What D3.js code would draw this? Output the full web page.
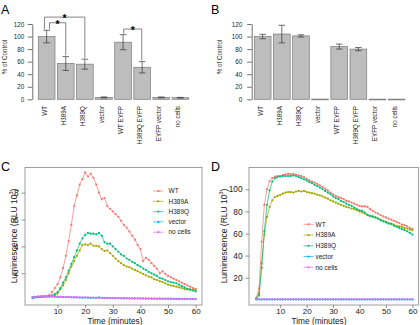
<!DOCTYPE html>
<html>
<head>
<meta charset="utf-8">
<script src="https://cdn.jsdelivr.net/npm/d3@7"></script>
<style>
body { margin: 0; background: #fff; }
text { font-family: "Liberation Sans", Arial, sans-serif; }
</style>
</head>
<body>
<svg width="420" height="325"></svg>
<script>
// bar panels (A, B)
const groups = ["WT", "H389A", "H389Q", "vector", "WT EYFP", "H389Q EYFP", "EYFP vector", "no cells"];
const pctA = [100, 57, 56, 3, 91, 51, 3, 2.5];
const errA = [10, 11, 8, 0.8, 12, 9, 0.7, 0.5];
const pctB = [100, 104, 101, 0.4, 84, 80, 0.3, 0.3];
const errB = [3.5, 14, 1.8, 0, 4, 2.5, 0, 0];
const barTicks = [0, 20, 40, 60, 80, 100, 120];
// significance brackets in panel A: [from, to, level]
const brackets = [[0, 2, 131], [0, 1, 122], [4, 5, 112]];

// time courses (C, D)
const minutes = d3.range(1, 61);
const seriesNames = ["WT", "H389A", "H389Q", "vector", "no cells"];
const seriesColors = ["#F8766D", "#A3A500", "#00BF7D", "#00B0F6", "#E76BF3"];

const cWT = [0.22, 0.24, 0.26, 0.27, 0.28, 0.3, 0.38, 0.6, 0.9, 1.2,
  1.7, 2.4, 3.3, 4.4, 5.6, 7.0, 7.8, 8.6, 9.0, 9.5,
  9.2, 9.4, 9.1, 8.6, 8.0, 7.5, 7.6, 7.0, 6.8, 6.6,
  6.4, 6.2, 5.9, 5.6, 5.4, 5.1, 4.8, 4.5, 4.1, 3.8,
  2.9, 3.15, 3.0, 2.75, 2.55, 2.35, 2.0, 2.15, 1.95, 1.8,
  1.7, 1.6, 1.5, 1.4, 1.3, 1.2, 1.1, 1.0, 0.9, 0.85];
const cH389A = [0.2, 0.22, 0.24, 0.25, 0.26, 0.27, 0.28, 0.3, 0.35, 0.5,
  0.8, 1.1, 1.5, 2.0, 2.5, 2.9, 3.3, 3.7, 4.1, 4.15,
  4.1, 4.2, 4.05, 4.05, 4.0, 3.8, 3.65, 3.7, 3.5, 3.3,
  3.1, 2.9, 2.75, 2.6, 2.5, 2.45, 2.35, 2.25, 2.15, 2.05,
  1.95, 1.85, 1.75, 1.7, 1.55, 1.5, 1.4, 1.35, 1.25, 1.15,
  1.1, 1.05, 1.0, 0.95, 0.9, 0.82, 0.8, 0.78, 0.75, 0.75];
const cH389Q = [0.2, 0.22, 0.24, 0.25, 0.26, 0.27, 0.29, 0.35, 0.45, 0.6,
  0.9, 1.3, 1.7, 2.2, 2.7, 3.2, 3.7, 4.2, 4.6, 4.85,
  5.0, 4.95, 4.95, 4.9, 5.0, 4.8, 4.3, 4.2, 4.2, 4.0,
  3.8, 3.6, 3.4, 3.3, 3.1, 3.0, 2.85, 2.75, 2.6, 2.5,
  2.35, 2.25, 2.1, 2.0, 1.9, 1.8, 1.65, 1.6, 1.5, 1.4,
  1.35, 1.3, 1.25, 1.15, 1.05, 0.95, 0.85, 0.8, 0.72, 0.65];
const cVector = [0.15, 0.2, 0.22, 0.25, 0.28, 0.27, 0.26, 0.27, 0.25, 0.24,
  0.24, 0.23, 0.22, 0.23, 0.21, 0.2, 0.2, 0.19, 0.18, 0.19,
  0.18, 0.17, 0.18, 0.17, 0.2, 0.16, 0.15, 0.16, 0.15, 0.15,
  0.14, 0.15, 0.14, 0.13, 0.14, 0.13, 0.13, 0.12, 0.13, 0.12,
  0.12, 0.11, 0.12, 0.11, 0.11, 0.1, 0.11, 0.1, 0.1, 0.1,
  0.09, 0.1, 0.09, 0.09, 0.08, 0.09, 0.08, 0.08, 0.08, 0.08];
const cNoCells = [0.2, 0.25, 0.28, 0.3, 0.3, 0.3, 0.29, 0.28, 0.27, 0.26,
  0.25, 0.25, 0.24, 0.23, 0.23, 0.22, 0.22, 0.21, 0.21, 0.2,
  0.2, 0.19, 0.19, 0.18, 0.18, 0.18, 0.17, 0.17, 0.16, 0.16,
  0.16, 0.15, 0.15, 0.15, 0.14, 0.14, 0.14, 0.14, 0.13, 0.13,
  0.13, 0.13, 0.12, 0.12, 0.12, 0.12, 0.11, 0.11, 0.11, 0.11,
  0.11, 0.1, 0.1, 0.1, 0.1, 0.1, 0.1, 0.09, 0.09, 0.09];

const dWT = [2, 10.4, 52.6, 85.8, 100, 107.5, 110, 111.4, 112, 112,
  113, 113.5, 114, 113.5, 114, 113, 112.5, 112, 111, 109.5,
  108, 107, 106, 105, 103.5, 102, 100.5, 99, 97, 95.5,
  94, 93, 92, 91, 89.5, 89, 88, 87, 86, 85,
  84.5, 84.5, 84, 82, 80.5, 79, 78, 76.5, 75.5, 74.5,
  73.5, 72.5, 71.5, 70.5, 69.5, 68, 67.5, 66.5, 65, 64];
const dH389A = [1, 6, 33, 59, 75, 84, 90, 93, 94, 95,
  96, 97, 97.5, 97.5, 97, 98, 98.5, 98, 98.5, 97.5,
  97, 96.5, 96, 95, 94.5, 93.5, 92.5, 91.5, 90, 89,
  88, 87, 86, 85, 84, 83.5, 82.5, 82, 81, 80,
  79, 78, 76.5, 75.5, 75, 74.5, 73.5, 72.5, 71.5, 70.5,
  69.5, 69, 68, 67, 66.5, 66, 65, 64.5, 63.5, 63];
const dH389Q = [1, 4, 29, 62, 86, 99, 107, 110, 111, 111.5,
  112, 112, 112, 112, 112.5, 112, 111, 110, 109, 108,
  106.5, 105.5, 104, 103, 101.5, 100, 98.5, 97, 95.5, 93.5,
  92, 91, 89.5, 88.5, 87, 86, 85, 83.5, 82, 81,
  80.5, 79, 77, 76, 75.5, 74.5, 73.5, 72, 71, 70,
  69, 68.5, 67, 66, 65, 64, 63, 62, 60.5, 59];
const dVector = [0.3, 0.3, 0.3, 0.3, 0.3, 0.3, 0.3, 0.3, 0.3, 0.3,
  0.3, 0.3, 0.3, 0.3, 0.3, 0.3, 0.3, 0.3, 0.3, 0.3,
  0.3, 0.3, 0.3, 0.3, 0.3, 0.3, 0.3, 0.3, 0.3, 0.3,
  0.3, 0.3, 0.3, 0.3, 0.3, 0.3, 0.3, 0.3, 0.3, 0.3,
  0.3, 0.3, 0.3, 0.3, 0.3, 0.3, 0.3, 0.3, 0.3, 0.3,
  0.3, 0.3, 0.3, 0.3, 0.3, 0.3, 0.3, 0.3, 0.3, 0.3];
const dNoCells = [0.4, 0.4, 0.4, 0.4, 0.4, 0.4, 0.4, 0.4, 0.4, 0.4,
  0.4, 0.4, 0.4, 0.4, 0.4, 0.4, 0.4, 0.4, 0.4, 0.4,
  0.4, 0.4, 0.4, 0.4, 0.4, 0.4, 0.4, 0.4, 0.4, 0.4,
  0.4, 0.4, 0.4, 0.4, 0.4, 0.4, 0.4, 0.4, 0.4, 0.4,
  0.4, 0.4, 0.4, 0.4, 0.4, 0.4, 0.4, 0.4, 0.4, 0.4,
  0.4, 0.4, 0.4, 0.4, 0.4, 0.4, 0.4, 0.4, 0.4, 0.4];

const svg = d3.select("svg");

// panel letters
svg.selectAll("text.panel")
  .data([["A", 1, 14], ["B", 211, 14], ["C", 1, 171], ["D", 211, 171]])
  .enter().append("text")
  .attr("x", d => d[1])
  .attr("y", d => d[2])
  .attr("font-size", 12.5)
  .text(d => d[0]);

function barPanel(vals, errs, opt) {
  const x = d3.scaleBand().domain(groups).range(opt.xr).paddingInner(0.126).paddingOuter(0.063);
  const y = d3.scaleLinear().domain([0, 120]).range([99.3, 24]);
  const g = svg.append("g");
  const rows = vals.map((v, i) => ({ k: groups[i], v: v, e: errs[i] }));
  const mid = d => x(d.k) + x.bandwidth() / 2;

  const ax = g.append("g")
    .attr("transform", `translate(${opt.axisX},0)`)
    .call(d3.axisLeft(y).tickValues(barTicks).tickSize(4.5).tickSizeOuter(0).tickPadding(opt.pad));
  ax.select(".domain").attr("stroke", "#333").attr("stroke-width", 0.7);
  ax.selectAll(".tick line").attr("stroke", "#333").attr("stroke-width", 0.7);
  ax.selectAll(".tick text").attr("font-size", 6.3).attr("fill", "#222")
    .attr("font-family", "'Liberation Sans', Arial, sans-serif");

  g.append("text")
    .attr("transform", `translate(${opt.labelX},57) rotate(-90)`)
    .attr("text-anchor", "middle")
    .attr("font-size", 6.3)
    .attr("fill", "#222")
    .text("% of Control");

  g.selectAll("rect.bar").data(rows).enter().append("rect")
    .attr("x", d => x(d.k))
    .attr("width", x.bandwidth())
    .attr("y", d => y(d.v))
    .attr("height", d => Math.max(0.8, y(0) - y(d.v)))
    .attr("fill", "#bdbdbd")
    .attr("stroke", "#7a7a7a")
    .attr("stroke-width", 0.7);

  // error bars
  const eb = g.selectAll("g.err").data(rows.filter(d => d.e > 0.2)).enter().append("g");
  eb.append("line")
    .attr("x1", mid).attr("x2", mid)
    .attr("y1", d => y(d.v - d.e))
    .attr("y2", d => y(d.v + d.e));
  [1, -1].forEach(s => {
    eb.append("line")
      .attr("x1", d => mid(d) - 3.3)
      .attr("x2", d => mid(d) + 3.3)
      .attr("y1", d => y(d.v + s * d.e))
      .attr("y2", d => y(d.v + s * d.e));
  });
  eb.selectAll("line").attr("stroke", "#333").attr("stroke-width", 0.7);

  g.selectAll("text.xl").data(groups).enter().append("text")
    .attr("transform", d => `translate(${x(d) + x.bandwidth() / 2},106) rotate(-90)`)
    .attr("text-anchor", "end")
    .attr("font-size", 6.3)
    .attr("fill", "#222")
    .text(d => d);

  return { x, y, g };
}

const A = barPanel(pctA, errA, { xr: [37.1, 189.9], axisX: 32.3, pad: 3.5, labelX: 6.5 });
barPanel(pctB, errB, { xr: [253.1, 406.2], axisX: 251.7, pad: 5, labelX: 221.5 });

// significance brackets for A
const cx = i => A.x(groups[i]) + A.x.bandwidth() / 2;
brackets.forEach(([a, b, lvl], k) => {
  const xa = cx(a) + (k === 0 ? -2.2 : k === 1 ? 2.8 : 0.7);
  const xb = cx(b) + (k === 2 ? -0.4 : 0);
  const ya = A.y(lvl);
  const endA = A.y(pctA[a] + errA[a] + 1.5);
  const endB = A.y(pctA[b] + errA[b] + 2);
  A.g.append("path")
    .attr("d", `M${xa},${endA}V${ya}H${xb}V${endB}`)
    .attr("fill", "none")
    .attr("stroke", "#666")
    .attr("stroke-width", 0.8);
  A.g.append("text")
    .attr("x", (xa + xb) / 2)
    .attr("y", ya + 5.3)
    .attr("text-anchor", "middle")
    .attr("font-size", 10.5)
    .attr("font-weight", "bold")
    .attr("fill", "#000")
    .text("*");
});

function linePanel(series, opt) {
  const x = d3.scaleLinear().domain([-1.8, 62.3]).range(opt.xr);
  const y = d3.scaleLinear().domain(opt.yd).range([305, 167.5]);
  const g = svg.append("g");

  g.append("rect")
    .attr("x", opt.xr[0]).attr("y", 167.5)
    .attr("width", opt.xr[1] - opt.xr[0]).attr("height", 305 - 167.5)
    .attr("fill", "none").attr("stroke", "#888").attr("stroke-width", 0.8);

  const ay = g.append("g").attr("transform", `translate(${opt.xr[0]},0)`)
    .call(d3.axisLeft(y).tickValues(opt.yt).tickSize(3.5).tickPadding(3));
  const ax = g.append("g").attr("transform", "translate(0,305)")
    .call(d3.axisBottom(x).tickValues([10, 20, 30, 40, 50, 60]).tickSize(3).tickPadding(0.5));
  [ax, ay].forEach(a => {
    a.select(".domain").remove();
    a.selectAll(".tick line").attr("stroke", "#666").attr("stroke-width", 0.7);
    a.selectAll(".tick text").attr("font-size", 8.3).attr("fill", "#222")
      .attr("font-family", "'Liberation Sans', Arial, sans-serif");
  });
  ax.selectAll(".tick text").attr("font-size", 8).attr("dy", "0.72em");

  g.append("text")
    .attr("x", opt.titleX).attr("y", 324.3)
    .attr("text-anchor", "middle").attr("font-size", 8.3).attr("fill", "#222")
    .text("Time (minutes)");

  const yl = g.append("text")
    .attr("transform", `translate(${opt.ylabX},236) rotate(-90)`)
    .attr("text-anchor", "middle").attr("font-size", 8.5).attr("fill", "#222");
  yl.append("tspan").text("Luminescence (RLU 10");
  yl.append("tspan").attr("font-size", 5.5).attr("dy", -3.5).text("3");
  yl.append("tspan").attr("dy", 3.5).text(")");

  const line = d3.line().x((d, i) => x(minutes[i])).y(d => y(d));
  series.forEach((vals, s) => {
    g.append("path").attr("d", line(vals))
      .attr("fill", "none").attr("stroke", seriesColors[s]).attr("stroke-width", 0.7);
    g.selectAll(null).data(vals).enter().append("circle")
      .attr("cx", (d, i) => x(minutes[i])).attr("cy", d => y(d)).attr("r", 1.1)
      .attr("fill", seriesColors[s]);
  });

  // legend
  const lg = g.selectAll("g.leg").data(seriesNames).enter().append("g")
    .attr("transform", (d, i) => `translate(0,${opt.legY + i * opt.legStep})`);
  lg.append("line")
    .attr("x1", opt.legX - 5).attr("x2", opt.legX + 5)
    .attr("stroke", (d, i) => seriesColors[i]).attr("stroke-width", 0.7);
  lg.append("circle").attr("cx", opt.legX).attr("r", 1.1)
    .attr("fill", (d, i) => seriesColors[i]);
  lg.append("text").attr("x", opt.legTextX).attr("dy", "0.35em")
    .attr("font-size", 6.5).attr("fill", "#222").text(d => d);
}

linePanel([cWT, cH389A, cH389Q, cVector, cNoCells], {
  xr: [25, 202], yd: [-0.36, 9.87], yt: [2, 4, 6, 8],
  titleX: 115, ylabX: 16.5, legX: 158.3, legTextX: 168.5, legY: 191, legStep: 10.3
});
linePanel([dWT, dH389A, dH389Q, dVector, dNoCells], {
  xr: [249, 418.5], yd: [-4.7, 119.7], yt: [20, 40, 60, 80, 100],
  titleX: 319, ylabX: 226.5, legX: 308.5, legTextX: 315.5, legY: 224.3, legStep: 10.75
});
</script>
</body>
</html>
